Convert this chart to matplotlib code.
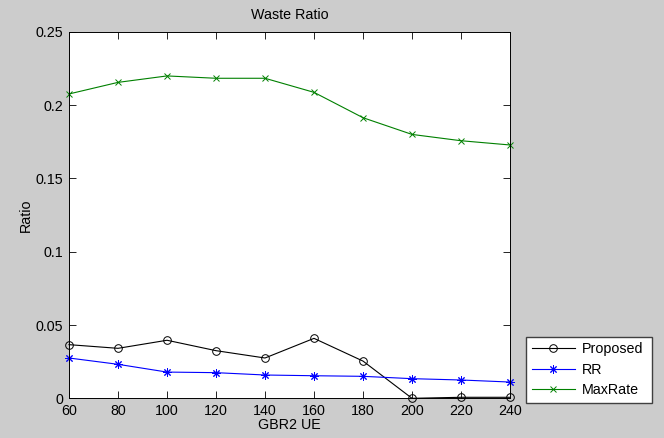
import numpy as np
import matplotlib.pyplot as plt

plt.rcParams['font.family'] = ['Liberation Sans', 'DejaVu Sans']

# number of GBR2 UEs on the x axis
ueCount = [60, 80, 100, 120, 140, 160, 180, 200, 220, 240]

# waste ratio per scheduler
proposed = [0.0366, 0.0341, 0.0396, 0.0325, 0.0275, 0.0409, 0.0254, 0.0, 0.0007, 0.0007]
rr = [0.0275, 0.0232, 0.0179, 0.0175, 0.0159, 0.0154, 0.0150, 0.0134, 0.0125, 0.0111]
maxRate = [0.2076, 0.2155, 0.2199, 0.2183, 0.2183, 0.2087, 0.1914, 0.1800, 0.1757, 0.1728]

fs = 10.3

fig = plt.figure(figsize=(6.64, 4.38), dpi=100, facecolor='#cccccc')
ax = fig.add_axes([0.1039, 0.0906, 0.6642, 0.8368])
ax.set_facecolor('white')

# (8, 2, 0) -> eight-armed asterisk, like a '+' over an 'x'
l1, = ax.plot(ueCount, proposed, color='k', marker='o', mfc='none', mec='k',
              ms=5.5, lw=0.8, mew=0.7, label='Proposed', clip_on=False)
l2, = ax.plot(ueCount, rr, color='b', marker=(8, 2, 0), ms=6, lw=0.8, mew=0.7,
              label='RR', clip_on=False)
l3, = ax.plot(ueCount, maxRate, color=(0, 0.5, 0), marker='x', ms=5, lw=0.8,
              mew=0.7, label='MaxRate', clip_on=False)

ax.set_xlim(60, 240)
ax.set_ylim(0, 0.25)
ax.set_xticks(np.arange(60, 241, 20))
ax.set_yticks([0, 0.05, 0.1, 0.15, 0.2, 0.25])
ax.set_yticklabels(['0', '0.05', '0.1', '0.15', '0.2', '0.25'])
ax.tick_params(direction='in', top=True, right=True, length=5, width=0.6,
               labelsize=fs, pad=4)
for s in ax.spines.values():
    s.set_linewidth(0.7)

ax.set_title('Waste Ratio', fontsize=fs, pad=9)
ax.set_xlabel('GBR2 UE', fontsize=fs, labelpad=0)
ax.set_ylabel('Ratio', fontsize=fs, labelpad=2)

fig.legend(handles=[l1, l2, l3], loc='lower left',
           bbox_to_anchor=(0.792, 0.0799, 0.19, 0.1495), mode='expand',
           fontsize=fs, numpoints=1, handlelength=3.0, fancybox=False,
           edgecolor='#404040', framealpha=1, borderaxespad=0,
           handletextpad=0.5, labelspacing=0.45)

fig.savefig('out.png', dpi=100, facecolor=fig.get_facecolor())
